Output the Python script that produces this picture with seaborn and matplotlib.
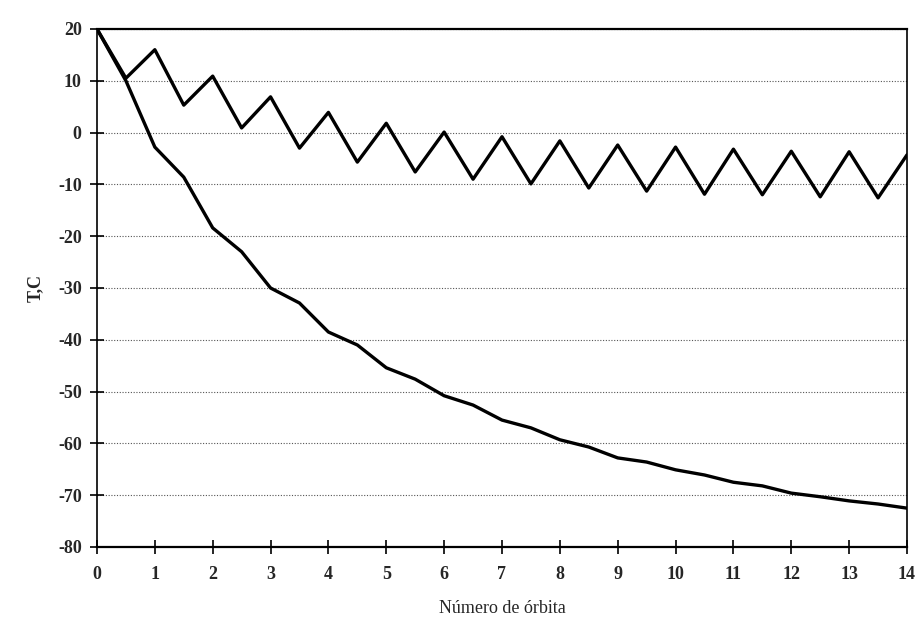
import numpy as np
import pandas as pd
import matplotlib
matplotlib.use("Agg")
import matplotlib.pyplot as plt
import seaborn as sns

orbit = [0, 0.5, 1, 1.5, 2, 2.5, 3, 3.5, 4, 4.5, 5, 5.5, 6, 6.5, 7, 7.5,
         8, 8.5, 9, 9.5, 10, 10.5, 11, 11.5, 12, 12.5, 13, 13.5, 14]
t_upper = [20, 10.5, 16.0, 5.3, 10.9, 0.9, 6.9, -3.0, 3.9, -5.7, 1.8, -7.6,
           0.1, -9.0, -0.8, -9.9, -1.6, -10.7, -2.4, -11.3, -2.8, -11.9,
           -3.2, -12.0, -3.6, -12.4, -3.7, -12.6, -4.3]
t_lower = [20, 10.0, -2.8, -8.6, -18.4, -23.0, -30.0, -32.9, -38.5, -41.0,
           -45.4, -47.6, -50.8, -52.6, -55.5, -57.0, -59.3, -60.7, -62.8,
           -63.6, -65.1, -66.1, -67.5, -68.2, -69.6, -70.3, -71.1, -71.7, -72.5]
x_ticks = list(range(0, 15))
y_ticks = list(range(-80, 21, 10))

df = pd.DataFrame({
    "orbit": orbit * 2,
    "T": t_upper + t_lower,
    "serie": ["a"] * len(orbit) + ["b"] * len(orbit),
})

sns.set_theme(style="white")
plt.rcParams["font.family"] = ["Liberation Serif", "DejaVu Serif"]

fig = plt.figure(figsize=(9.21, 6.26), dpi=100)
ax = fig.add_axes([0.1053, 0.1262, 0.8795, 0.8275])

sns.lineplot(data=df, x="orbit", y="T", units="serie", estimator=None,
             color="black", linewidth=2.4, ax=ax, legend=False)

ax.set_xlim(0, 14)
ax.set_ylim(-80, 20)
ax.set_xticks(x_ticks)
ax.set_yticks(y_ticks)
ax.set_xticklabels([str(v) for v in x_ticks], fontsize=13, fontweight="bold")
ax.set_yticklabels([str(v) for v in y_ticks], fontsize=13, fontweight="bold")
ax.tick_params(axis="x", direction="inout", length=10, width=1.2,
               color="black", pad=9, bottom=True)
ax.tick_params(axis="y", direction="inout", length=10, width=1.2,
               color="black", pad=6, left=True)
ax.grid(axis="y", linestyle=(0, (1, 1.5)), color="#555555", linewidth=0.8)
ax.grid(axis="x", visible=False)

for side in ["left", "bottom", "right", "top"]:
    ax.spines[side].set_visible(True)
    ax.spines[side].set_color("black")
ax.spines["left"].set_linewidth(1.2)
ax.spines["bottom"].set_linewidth(1.6)
ax.spines["right"].set_linewidth(1.2)
ax.spines["top"].set_linewidth(1.6)

ax.set_xlabel("Número de órbita", fontsize=13, labelpad=12)
ax.set_ylabel("T,C", fontsize=13, fontweight="bold", labelpad=10)

fig.savefig("out.png", dpi=100, facecolor="white")
